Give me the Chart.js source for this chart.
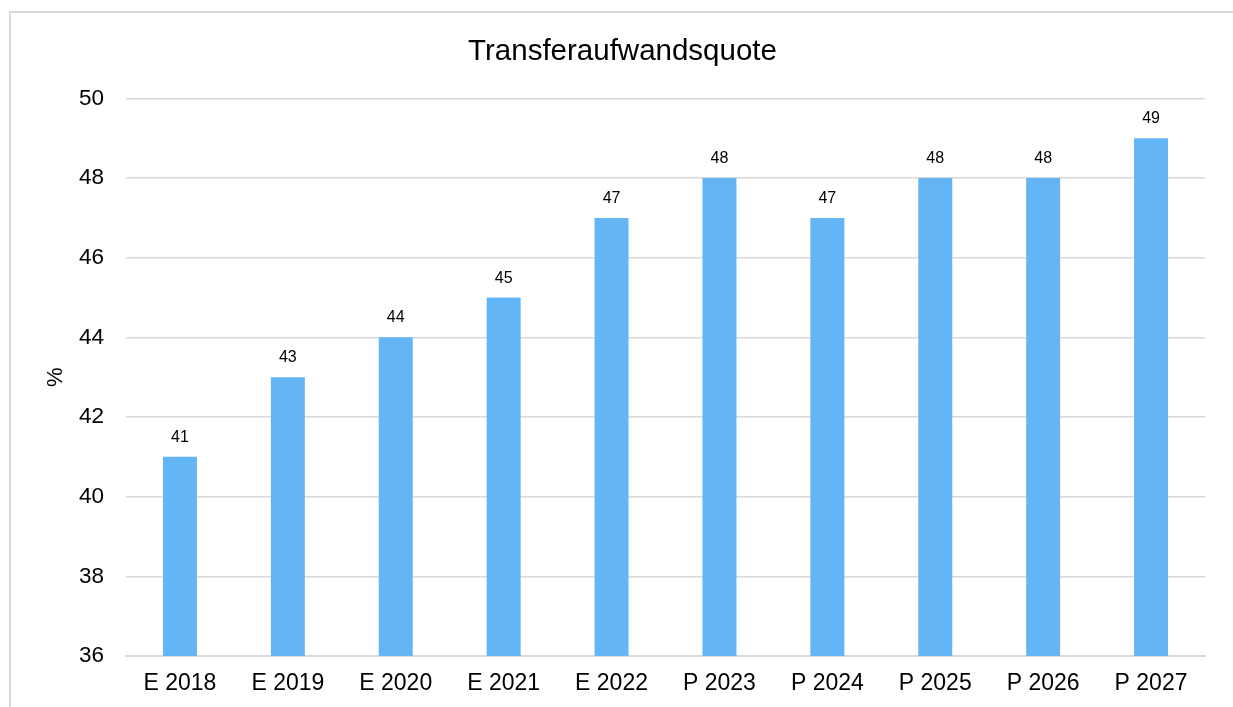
<!DOCTYPE html>
<html>
<head>
<meta charset="utf-8">
<script src="https://cdn.jsdelivr.net/npm/chart.js@4/dist/chart.umd.min.js"></script>
<style>
  html, body { margin: 0; padding: 0; background: #fff; overflow: hidden; }
  #wrap { position: relative; width: 1233px; height: 707px; }
  #frame {
    position: absolute; left: 9px; top: 11px; width: 1400px; height: 900px;
    border: 2px solid #d9d9d9; pointer-events: none;
  }
</style>
</head>
<body>
<div id="wrap">
  <canvas id="chart" width="1233" height="707"></canvas>
  <div id="frame"></div>
</div>
<script>
// ===== chart data =====
const categories = ["E 2018", "E 2019", "E 2020", "E 2021", "E 2022", "P 2023", "P 2024", "P 2025", "P 2026", "P 2027"];
const quoteValues = [41, 43, 44, 45, 47, 48, 47, 48, 48, 49];
const yTicks = [36, 38, 40, 42, 44, 46, 48, 50];

const FONT = "Liberation Sans, Arial, sans-serif";
const gridGray = "#d9d9d9";

// value labels above the bars
const barLabels = {
  id: "barLabels",
  afterDatasetsDraw(chart) {
    const ctx = chart.ctx;
    const meta = chart.getDatasetMeta(0);
    ctx.save();
    ctx.font = "16px " + FONT;
    ctx.fillStyle = "#000";
    ctx.textAlign = "center";
    ctx.textBaseline = "alphabetic";
    meta.data.forEach((bar, i) => {
      ctx.fillText(String(quoteValues[i]), bar.x, bar.y - 15);
    });
    ctx.restore();
  }
};

const ctx = document.getElementById("chart").getContext("2d");
new Chart(ctx, {
  type: "bar",
  data: {
    labels: categories,
    datasets: [{
      data: quoteValues,
      backgroundColor: "#64b5f6",
      borderWidth: 0,
      categoryPercentage: 1,
      barPercentage: 0.315
    }]
  },
  options: {
    responsive: false,
    animation: false,
    layout: { padding: { left: 40, right: 28, top: 18, bottom: 0 } },
    plugins: {
      legend: { display: false },
      tooltip: { enabled: false },
      title: {
        display: true,
        text: "Transferaufwandsquote",
        color: "#000",
        font: { family: FONT, size: 29.5, weight: "normal" },
        padding: { top: 16, bottom: 29 }
      }
    },
    scales: {
      x: {
        grid: { display: false, drawTicks: false },
        border: { display: true, color: gridGray, width: 2 },
        ticks: { color: "#000", font: { family: FONT, size: 23 }, padding: 14, maxRotation: 0 },
        afterFit: s => { s.height = 51; }
      },
      y: {
        min: 36,
        max: 50,
        afterBuildTicks: s => { s.ticks = yTicks.map(v => ({ value: v })); },
        grid: { color: gridGray, lineWidth: 1.5, drawTicks: false },
        border: { display: false },
        ticks: { color: "#000", font: { family: FONT, size: 22.5 }, padding: 22 },
        title: {
          display: true,
          text: "%",
          color: "#000",
          font: { family: FONT, size: 22 },
          padding: { top: 3, bottom: 0 }
        },
        afterFit: s => { s.width = 86; }
      }
    }
  },
  plugins: [barLabels]
});
</script>
</body>
</html>
